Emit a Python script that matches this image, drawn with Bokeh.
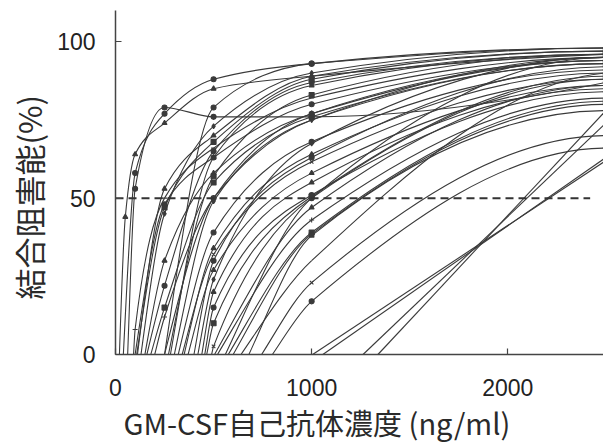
import numpy as np
from bokeh.plotting import figure
from bokeh.models import FixedTicker, Title, Range1d, ColumnDataSource
from bokeh.embed import file_html
from bokeh.resources import INLINE

N = None
# measured concentrations (ng/ml)
conc_levels = [50, 100, 250, 500, 1000, 2500]
# concentration where each curve leaves 0 %
x_intercept = [20, 62, 40, 92, 100, 108, 160, 180, 150, 200,
               250, 270, 250, 300, 320, 350, 340, 370, 440, 455,
               490, 465, 505, 520, 575, 600, 680, 745, 800, 1005,
               1057, 1262, 1338, 112, 130, 280, 400, 420, 560, 640]
y_at_50 = [44, N, N, N, N, N, N, N, N, N,
           N, N, N, N, N, N, N, N, N, N,
           N, N, N, N, N, N, N, N, N, N,
           N, N, N, N, N, N, N, N, N, N]
y_at_100 = [64, 53, 58, 8, N, N, N, N, N, N,
            N, N, N, N, N, N, N, N, N, N,
            N, N, N, N, N, N, N, N, N, N,
            N, N, N, N, N, N, N, N, N, N]
y_at_250 = [74, 79, 77, 50, 48, 47, 22, 15, 30, 12,
            N, N, N, N, N, N, N, N, N, N,
            N, N, N, N, N, N, N, N, N, N,
            N, N, N, 53, 45, N, N, N, N, N]
y_at_500 = [85, 76, 88, 66, 63, 68, 65, 55, 58, 50,
            79, 57, 50, 49, 39, 34, 32, 27, 20, 15,
            2.6, 10, N, N, N, N, N, N, N, N,
            N, N, N, 70, 73, 63, 30, 24, N, N]
y_at_1000 = [89, 76, 93, 82, 80, 88, 87, 76, 77, 75,
             93, 83, 77, 75, 68, 64, 61.6, 58, 55, 51,
             50, 50.5, 47, 43, 39, 38.5, 38, 23, 17, N,
             N, N, N, 89, 90, 86, 63, 67.5, 50, 30]
y_at_2500 = [96, 87, 98, 95, 94, 97, 96, 93, 94, 95,
             98, 96, 94, 93, 91, 90, 88, 86, 85, 84,
             88, 89, 86, 82, 81, 80, 78, 70, 66, 62,
             63, 74, 78, 97, 98, 96, 92, 95, 95, 90]
markers = ["triangle", "circle", "circle", "dash", "circle", "square", "circle", "square", "triangle", "cross",
           "circle", "square", "circle", "diamond", "circle", "triangle", "x", "triangle", "triangle", "circle",
           "x", "square", "triangle", "cross", "square", "circle", "triangle", "x", "circle", None,
           None, None, None, "triangle", "diamond", "triangle", "circle", "diamond", "circle", None]
x_ticks = [0, 1000, 2000]
y_ticks = [0, 50, 100]
threshold = 50
threshold_extent = [0, 2420]

INK = "#3a3a3a"


def tangents(xs, ys):
    xs = np.asarray(xs, float)
    ys = np.asarray(ys, float)
    n = len(xs)
    h = np.diff(xs)
    d = np.diff(ys) / h
    m = np.zeros(n)
    if n == 2:
        m[:] = d[0]
        return m
    for k in range(1, n - 1):
        if d[k - 1] * d[k] <= 0:
            m[k] = 0.0
        else:
            w1 = 2 * h[k] + h[k - 1]
            w2 = h[k] + 2 * h[k - 1]
            m[k] = (w1 + w2) / (w1 / d[k - 1] + w2 / d[k])

    def end(h0, h1, d0, d1):
        t = ((2 * h0 + h1) * d0 - h0 * d1) / (h0 + h1)
        if np.sign(t) != np.sign(d0):
            t = 0.0
        elif np.sign(d0) != np.sign(d1) and abs(t) > abs(3 * d0):
            t = 3 * d0
        return t

    m[0] = end(h[0], h[1], d[0], d[1])
    m[-1] = end(h[-1], h[-2], d[-1], d[-2])
    return m


seg = dict(x0=[], y0=[], x1=[], y1=[], cx0=[], cy0=[], cx1=[], cy1=[])
pts = dict(x=[], y=[], marker=[])
columns = [y_at_50, y_at_100, y_at_250, y_at_500, y_at_1000, y_at_2500]
for i, x0 in enumerate(x_intercept):
    xs = [x0]
    ys = [0.0]
    for c, col in zip(conc_levels, columns):
        v = col[i]
        if v is not None and c > x0:
            xs.append(c)
            ys.append(v)
            if markers[i] is not None:
                pts["x"].append(c)
                pts["y"].append(v)
                pts["marker"].append(markers[i])
    m = tangents(xs, ys)
    for k in range(len(xs) - 1):
        hh = xs[k + 1] - xs[k]
        seg["x0"].append(xs[k]); seg["y0"].append(ys[k])
        seg["x1"].append(xs[k + 1]); seg["y1"].append(ys[k + 1])
        seg["cx0"].append(xs[k] + hh / 3); seg["cy0"].append(ys[k] + m[k] * hh / 3)
        seg["cx1"].append(xs[k + 1] - hh / 3); seg["cy1"].append(ys[k + 1] - m[k + 1] * hh / 3)

p = figure(width=603, height=442, output_backend="svg", toolbar_location=None,
           x_range=Range1d(0, 2488), y_range=Range1d(0, 110),
           min_border_left=114, min_border_right=0, min_border_top=10, min_border_bottom=87)
p.outline_line_color = None
p.xgrid.visible = False
p.ygrid.visible = False
p.background_fill_color = "white"

p.bezier(x0="x0", y0="y0", x1="x1", y1="y1", cx0="cx0", cy0="cy0", cx1="cx1", cy1="cy1",
         source=ColumnDataSource(seg), line_color=INK, line_width=1.1)
p.scatter(x="x", y="y", marker="marker", source=ColumnDataSource(pts), size=5,
          line_color=INK, fill_color=INK, line_width=1.1)

p.line(x=threshold_extent, y=[threshold, threshold], line_color="#333333",
       line_width=2, line_dash="8 5")

for ax, ticks in ((p.xaxis, x_ticks), (p.yaxis, y_ticks)):
    ax.ticker = FixedTicker(ticks=ticks)
    ax.major_tick_in = 6
    ax.major_tick_out = 0
    ax.minor_tick_in = 0
    ax.minor_tick_out = 0
    ax.axis_line_color = "#444444"
    ax.axis_line_width = 1.5
    ax.major_tick_line_color = "#444444"
    ax.major_tick_line_width = 1.2
    ax.major_label_text_font = "Liberation Sans"
    ax.major_label_text_font_size = "23px"
    ax.major_label_text_color = "#222222"
p.xaxis.major_label_standoff = 24
p.yaxis.major_label_standoff = 20

x_title = "GM-CSF自己抗体濃度 (ng/ml)"
y_title = "結合阻害能(%)"
p.add_layout(Title(text=x_title, align="left", offset=8, standoff=0,
                   text_font="Noto Sans CJK JP", text_font_size="29px", text_color="#2a2a2a",
                   text_font_style="normal"), "below")
p.add_layout(Title(text=y_title, align="left", offset=55, standoff=7,
                   text_font="Noto Sans CJK JP", text_font_size="31px", text_color="#2a2a2a",
                   text_font_style="normal"), "left")

open("out.html", "w").write(file_html(p, INLINE))
